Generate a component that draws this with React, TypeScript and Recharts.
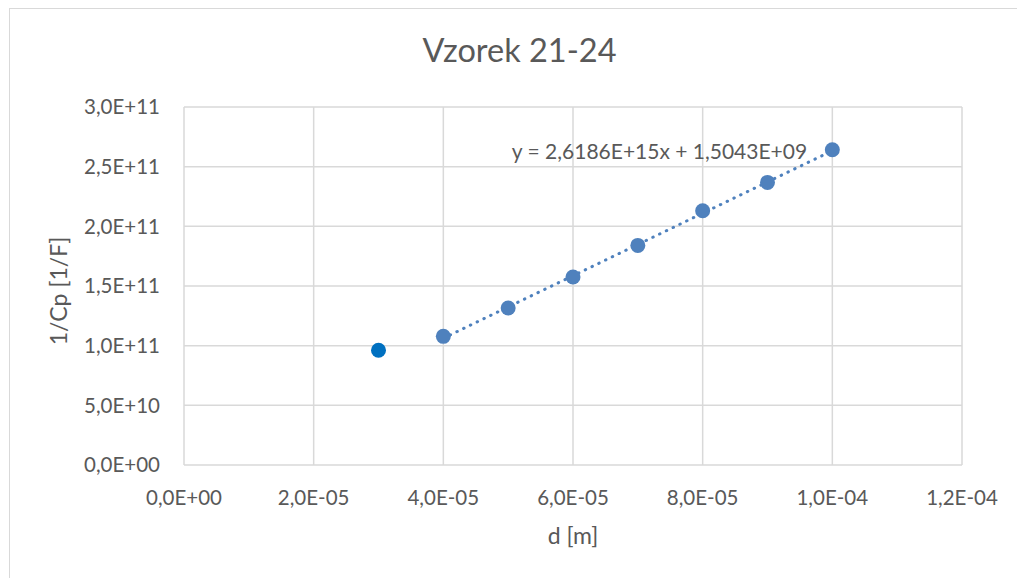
import React from "react";
import { ScatterChart, Scatter, XAxis, YAxis, CartesianGrid, ReferenceLine } from "recharts";

const chartTitle = "Vzorek 21-24";
const xAxisTitle = "d [m]";
const yAxisTitle = "1/Cp [1/F]";
const equationText = "y = 2,6186E+15x + 1,5043E+09";

const xTicks = [0, 2e-5, 4e-5, 6e-5, 8e-5, 1e-4, 1.2e-4];
const yTicks = [0, 5e10, 1e11, 1.5e11, 2e11, 2.5e11, 3e11];

const outlierD = [3e-5];
const outlierInvCp = [9.61e10];

const dValues = [4e-5, 5e-5, 6e-5, 7e-5, 8e-5, 9e-5, 1e-4];
const invCpValues = [1.078e11, 1.316e11, 1.575e11, 1.84e11, 2.131e11, 2.368e11, 2.642e11];

const trendSlope = 2.6186e15;
const trendIntercept = 1.5043e9;
const trendRange = [4e-5, 1e-4];

const W = 1017;
const H = 578;
const PLOT_LEFT = 184;
const PLOT_RIGHT = 962;
const PLOT_TOP = 107;
const PLOT_BOTTOM = 465;

const TEXT = "#595959";
const GRID = "#d9d9d9";
const FONT = "Lato, 'Noto Sans', sans-serif";

function fmt(v: number): string {
  const [m, e] = v.toExponential(1).split("e");
  const sign = e[0] === "-" ? "-" : "+";
  const abs = e.replace(/[+-]/, "").padStart(2, "0");
  return m.replace(".", ",") + "E" + sign + abs;
}

const mainData = dValues.map((d, i) => ({ x: d, y: invCpValues[i] }));
const outlierData = outlierD.map((d, i) => ({ x: d, y: outlierInvCp[i] }));
const trendSegment = trendRange.map((x) => ({ x, y: trendSlope * x + trendIntercept }));

const XTick = (props: any) => {
  const { x, y, payload } = props;
  return (
    <text x={x} y={y + 40} textAnchor="middle" fill={TEXT} fontSize={20.5} fontFamily={FONT}>
      {fmt(payload.value)}
    </text>
  );
};

const YTick = (props: any) => {
  const { x, y, payload } = props;
  return (
    <text x={x - 24} y={y + 7.4} textAnchor="end" fill={TEXT} fontSize={20.5} fontFamily={FONT}>
      {fmt(payload.value)}
    </text>
  );
};

const MarkerA = (props: any) => <circle cx={props.cx} cy={props.cy} r={7.5} fill="#4F81BD" />;
const MarkerB = (props: any) => <circle cx={props.cx} cy={props.cy} r={7.5} fill="#0070C0" />;

export default function App() {
  return (
    <div
      style={{
        position: "fixed",
        left: 0,
        top: 0,
        width: W,
        height: H,
        overflow: "hidden",
        background: "#fff",
      }}
    >
      <div
        style={{
          position: "absolute",
          left: 9,
          top: 8,
          width: 1200,
          height: 800,
          borderLeft: `1.5px solid ${GRID}`,
          borderTop: `1.5px solid ${GRID}`,
        }}
      />
      <div style={{ position: "absolute", left: 0, top: 0 }}>
        <ScatterChart
          width={W}
          height={H}
          margin={{ top: PLOT_TOP, right: W - PLOT_RIGHT, left: 0, bottom: 0 }}
        >
          <CartesianGrid stroke={GRID} strokeWidth={1.5} />
          <XAxis
            dataKey="x"
            type="number"
            domain={[0, 1.2e-4]}
            ticks={xTicks}
            interval={0}
            height={H - PLOT_BOTTOM}
            axisLine={false}
            tickLine={false}
            tickSize={0}
            tickMargin={0}
            tick={<XTick />}
          />
          <YAxis
            dataKey="y"
            type="number"
            domain={[0, 3e11]}
            ticks={yTicks}
            interval={0}
            width={PLOT_LEFT}
            axisLine={false}
            tickLine={false}
            tickSize={0}
            tickMargin={0}
            tick={<YTick />}
          />
          <ReferenceLine
            segment={trendSegment}
            stroke="#4F81BD"
            strokeWidth={3}
            strokeDasharray="0.5 7"
            strokeLinecap="round"
            ifOverflow="visible"
          />
          <Scatter data={outlierData} shape={<MarkerB />} isAnimationActive={false} />
          <Scatter data={mainData} shape={<MarkerA />} isAnimationActive={false} />
        </ScatterChart>
      </div>
      <svg
        width={W}
        height={H}
        style={{ position: "absolute", left: 0, top: 0, pointerEvents: "none" }}
      >
        <text x={519.5} y={62} textAnchor="middle" fill={TEXT} fontSize={32.5} fontFamily={FONT}>
          {chartTitle}
        </text>
        <text x={573} y={544} textAnchor="middle" fill={TEXT} fontSize={23} fontFamily={FONT}>
          {xAxisTitle}
        </text>
        <text
          x={67}
          y={291}
          textAnchor="middle"
          fill={TEXT}
          fontSize={23}
          fontFamily={FONT}
          transform="rotate(-90, 67, 291)"
        >
          {yAxisTitle}
        </text>
        <text x={659.5} y={159} textAnchor="middle" fill={TEXT} fontSize={21} fontFamily={FONT}>
          {equationText}
        </text>
      </svg>
    </div>
  );
}
